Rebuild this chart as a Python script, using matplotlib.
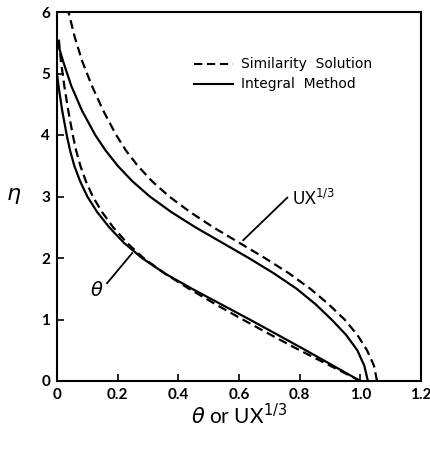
import matplotlib
matplotlib.use("Agg")
import matplotlib.pyplot as plt

# UX^{1/3} profiles (x value at given eta)
eta_ux_int = [0, 0.25, 0.5, 0.75, 1.0, 1.25, 1.5, 1.75, 2.0, 2.25, 2.5, 2.75, 3.0,
              3.25, 3.5, 3.75, 4.0, 4.4, 4.8, 5.2, 5.4, 5.5]
ux_int = [1.025, 1.013, 0.99, 0.953, 0.905, 0.852, 0.79, 0.715, 0.632, 0.544, 0.456, 0.376, 0.306,
          0.248, 0.2, 0.16, 0.126, 0.082, 0.047, 0.02, 0.008, 0.0]

eta_ux_sim = [0, 0.25, 0.5, 0.75, 1.0, 1.25, 1.5, 1.75, 2.0, 2.25, 2.5, 2.75, 3.0,
              3.25, 3.5, 3.75, 4.0, 4.4, 4.8, 5.2, 5.6, 6.0]
ux_sim = [1.055, 1.045, 1.022, 0.99, 0.948, 0.895, 0.835, 0.765, 0.685, 0.6, 0.515, 0.438, 0.37,
          0.313, 0.266, 0.227, 0.195, 0.152, 0.115, 0.083, 0.058, 0.038]

# theta profiles
eta_th_int = [0, 0.25, 0.5, 0.75, 1.0, 1.25, 1.5, 1.75, 2.0, 2.25, 2.5, 2.75, 3.0,
              3.25, 3.5, 3.75, 4.0, 4.4, 4.8, 5.0]
th_int = [1.0, 0.91, 0.82, 0.728, 0.635, 0.54, 0.445, 0.355, 0.28, 0.22, 0.172, 0.132, 0.1,
          0.076, 0.057, 0.043, 0.032, 0.017, 0.005, 0.0]

eta_th_sim = [0, 0.25, 0.5, 0.75, 1.0, 1.25, 1.5, 1.75, 2.0, 2.25, 2.5, 2.75, 3.0,
              3.25, 3.5, 3.75, 4.0, 4.4, 4.8, 5.2, 5.6]
th_sim = [1.0, 0.9, 0.8, 0.705, 0.612, 0.522, 0.435, 0.355, 0.285, 0.23, 0.185, 0.148, 0.118,
          0.095, 0.077, 0.063, 0.052, 0.037, 0.024, 0.013, 0.005]

xticks = [0, 0.2, 0.4, 0.6, 0.8, 1.0, 1.2]
xticklabels = ["0", "0.2", "0.4", "0.6", "0.8", "1.0", "1.2"]
yticks = [0, 1, 2, 3, 4, 5, 6]

fig = plt.figure(figsize=(4.31, 4.5), dpi=100)
ax = fig.add_axes([57/431, 69/450, 364/431, 369/450])

dash = (0, (4, 2.2))
lw = 1.6
ax.plot(ux_int, eta_ux_int, color="black", lw=lw)
ax.plot(ux_sim, eta_ux_sim, color="black", lw=lw, linestyle=dash)
ax.plot(th_int, eta_th_int, color="black", lw=lw)
ax.plot(th_sim, eta_th_sim, color="black", lw=lw, linestyle=dash)

ax.set_xlim(0, 1.2)
ax.set_ylim(0, 6)
ax.set_xticks(xticks)
ax.set_xticklabels(xticklabels)
ax.set_yticks(yticks)
ax.tick_params(direction="in", length=5, width=1.2, labelsize=11, pad=5)
for lab in ax.get_xticklabels() + ax.get_yticklabels():
    lab.set_fontweight("bold")
    lab.set_fontfamily("Lato")
for s in ax.spines.values():
    s.set_linewidth(1.5)

# axis labels
ax.set_xlabel(r"$\theta$ or UX$^{1/3}$", fontsize=15, labelpad=1, family="Lato")
ax.set_ylabel(r"$\eta$", fontsize=16, rotation=0, labelpad=20, va="center")

# curve annotations with leader lines
ax.plot([0.759, 0.614], [2.98, 2.29], color="black", lw=1.3)
ax.text(0.775, 2.98, "UX$^{1/3}$", fontsize=12, va="center", ha="left", family="Lato")
ax.plot([0.165, 0.248], [1.59, 2.08], color="black", lw=1.3)
ax.text(0.132, 1.47, r"$\theta$", fontsize=14, va="center", ha="center")

# legend drawn by hand
lx0, lx1, ltx = 0.45, 0.58, 0.608
ax.plot([lx0, lx1], [5.16, 5.16], color="black", lw=1.5, linestyle=dash)
ax.plot([lx0, lx1], [4.83, 4.83], color="black", lw=1.5)
ax.text(ltx, 5.16, "Similarity  Solution", fontsize=10, va="center", ha="left", family="DejaVu Sans")
ax.text(ltx, 4.83, "Integral  Method", fontsize=10, va="center", ha="left", family="DejaVu Sans")

fig.savefig("out.png", dpi=100)
